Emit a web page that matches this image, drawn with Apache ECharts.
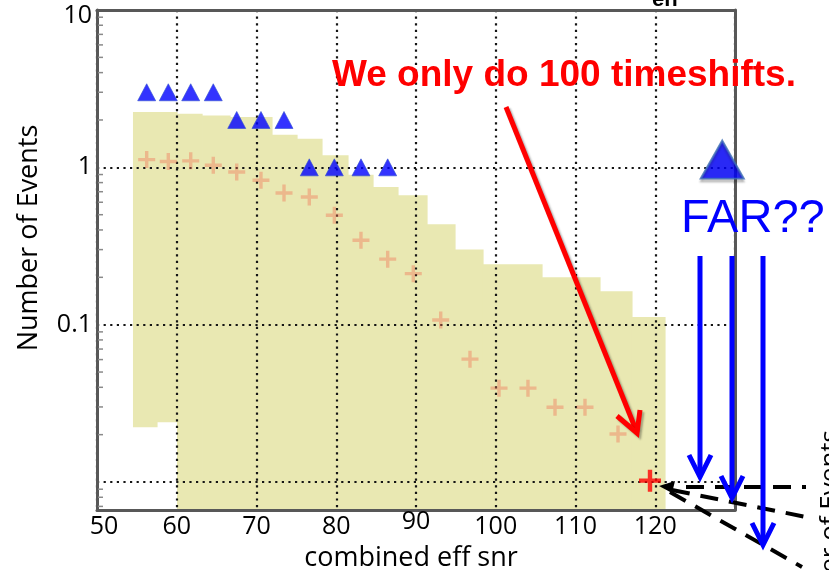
<!DOCTYPE html>
<html><head><meta charset="utf-8">
<script src="https://cdn.jsdelivr.net/npm/echarts@6/dist/echarts.min.js"></script>
<style>html,body{margin:0;padding:0;background:#fff}#c{width:829px;height:570px}</style>
</head><body><div id="c"></div>
<script>
// ---- data ----
const xTickLabels = [50, 60, 70, 80, 90, 100, 110, 120];
const yTickLabels = [10, 1, 0.1];
const bgSnr  = [56.23, 58.94, 61.75, 64.58, 67.52, 70.56, 73.45, 76.62, 79.76, 83.10, 86.45, 89.66, 93.10, 96.77, 100.41, 104.04, 107.43, 111.19, 115.33];
const bgMean = [1.12, 1.09, 1.10, 1.03, 0.934, 0.827, 0.687, 0.648, 0.496, 0.344, 0.261, 0.211, 0.107, 0.0604, 0.0395, 0.0395, 0.0299, 0.0299, 0.0202];
const zlSnr    = [56.23, 58.94, 61.75, 64.58, 67.52, 70.56, 73.45, 76.62, 79.76, 83.10, 86.45];
const zlCounts = [3, 3, 3, 3, 2, 2, 2, 1, 1, 1, 1];
const bandEdges = [54.51, 57.52, 60.03, 63.17, 66.68, 71.94, 75.08, 78.21, 81.47, 84.61, 87.74, 91.38, 94.89, 98.40, 105.80, 113.07, 117.08, 121.22];
const bandHigh  = [2.244, 2.244, 2.193, 2.138, 2.086, 1.613, 1.521, 1.192, 0.896, 0.750, 0.664, 0.435, 0.301, 0.242, 0.200, 0.163, 0.112];
const bandLow   = [0.0223, 0.0240, null, null, null, null, null, null, null, null, null, null, null, null, null, null, null];
const loudestSnr = [119.34];
const loudestVal = [0.0102];
const candSnr = [128.4];
const candVal = [1.12];
const yMinorTicks = [0.007, 0.008, 0.009, 0.02, 0.03, 0.04, 0.05, 0.06, 0.07, 0.08, 0.09,
                     0.2, 0.3, 0.4, 0.5, 0.6, 0.7, 0.8, 0.9, 2, 3, 4, 5, 6, 7, 8, 9];

// ---- chart ----
const chart = echarts.init(document.getElementById('c'));
const FONT = '"Open Sans", "DejaVu Sans", sans-serif';
const ARIAL = '"Liberation Sans", Arial, sans-serif';
const plusPath = 'path://M4,0h2v4h4v2h-4v4h-2v-4h-4v-2h4z';
const dotted = { color: '#151515', width: 2.2, type: [2.2, 4.4] };
const frame = { show: true, lineStyle: { color: '#585858', width: 3 } };

const bandData = bandHigh.map((h, i) => [bandEdges[i], bandEdges[i + 1], h, i]);

function renderBand(params, api) {
  const i = api.value(3);
  const cs = params.coordSys;
  const pTop = api.coord([api.value(0), api.value(2)]);
  const pRight = api.coord([api.value(1), api.value(2)]);
  let bottom = cs.y + cs.height;
  if (bandLow[i] != null) bottom = api.coord([api.value(0), bandLow[i]])[1];
  const rect = echarts.graphic.clipRectByRect(
    { x: pTop[0], y: pTop[1], width: pRight[0] - pTop[0] + 0.6, height: bottom - pTop[1] },
    { x: cs.x, y: cs.y, width: cs.width, height: cs.height });
  return rect && { type: 'rect', shape: rect, style: { fill: '#e9e8b2' } };
}

function renderMinor(params, api) {
  const p = api.coord([api.value(0), api.value(1)]);
  return { type: 'line', shape: { x1: p[0] + 1, y1: p[1], x2: p[0] + 6, y2: p[1] },
           style: { stroke: '#8a8a8a', lineWidth: 1.5 } };
}

function blueArrow(x, tip) {
  return [
    { type: 'line', shape: { x1: x, y1: 256, x2: x, y2: tip - 3 }, style: { stroke: '#0000ff', lineWidth: 5 }, z: 100 },
    { type: 'polyline', shape: { points: [[x - 11, tip - 22], [x, tip], [x + 11, tip - 22]] },
      style: { stroke: '#0000ff', lineWidth: 5, fill: null, lineJoin: 'miter' }, z: 100 }
  ];
}

const option = {
  backgroundColor: '#fff',
  animation: false,
  grid: { left: 97, right: 94, top: 10, bottom: 60, containLabel: false, outerBoundsMode: 'none' },
  xAxis: [{
    type: 'value', min: 50, max: 130, interval: 10, z: 1,
    name: 'combined eff snr', nameLocation: 'middle', nameGap: 30,
    nameTextStyle: { fontFamily: FONT, fontSize: 27, color: '#000', padding: [0, 10, 0, 0] },
    axisLine: frame, axisTick: { show: false },
    splitLine: { show: true, lineStyle: dotted },
    axisLabel: {
      margin: -1,
      fontFamily: FONT, fontSize: 25, color: '#000',
      formatter: v => {
        if (!xTickLabels.includes(v)) return '';
        if (v === 90) return '{up|90}';
        if (v === 50) return '{first|50}';
        return '{n|' + v + '}';
      },
      rich: {
        n: { fontFamily: FONT, fontSize: 25, color: '#000', lineHeight: 36 },
        up: { fontFamily: FONT, fontSize: 25, color: '#000', lineHeight: 26 },
        first: { fontFamily: FONT, fontSize: 25, color: '#000', lineHeight: 36, padding: [0, 0, 0, 14] }
      }
    }
  }, {
    type: 'value', min: 50, max: 130, position: 'top', z: 1,
    axisLine: frame, axisTick: { show: false }, axisLabel: { show: false }, splitLine: { show: false }
  }],
  yAxis: [{
    type: 'log', logBase: 10, min: 0.00664, max: 10, z: 1,
    name: 'Number of Events', nameLocation: 'middle', nameGap: 54, nameRotate: 90,
    nameTextStyle: { fontFamily: FONT, fontSize: 27, color: '#000', padding: [0, 0, 0, 44] },
    axisLine: frame, axisTick: { show: false }, minorTick: { show: false },
    splitLine: { show: true, lineStyle: dotted },
    axisLabel: {
      margin: 5, fontFamily: FONT, fontSize: 25, color: '#000',
      formatter: v => {
        const m = yTickLabels.find(t => Math.abs(t - v) / t < 1e-6);
        if (m === undefined) return '';
        if (m === 10) return '{top|10}';
        return '{n|' + m + '}';
      },
      rich: {
        n: { fontFamily: FONT, fontSize: 25, color: '#000' },
        top: { fontFamily: FONT, fontSize: 25, color: '#000', padding: [12, 0, 0, 0] }
      }
    }
  }, {
    type: 'log', logBase: 10, min: 0.00664, max: 10, position: 'right', z: 1,
    axisLine: frame, axisTick: { show: false }, axisLabel: { show: false }, splitLine: { show: false }
  }],
  series: [
    { name: 'background band', type: 'custom', z: 0, renderItem: renderBand, data: bandData,
      encode: { x: [0, 1], y: 2 }, silent: true },
    { name: 'minor ticks', type: 'custom', z: 3, renderItem: renderMinor,
      data: yMinorTicks.map(v => [50, v]), encode: { x: 0, y: 1 }, silent: true },
    { name: 'background mean', type: 'scatter', z: 4, symbol: plusPath, symbolSize: 17,
      itemStyle: { color: 'rgba(240,112,82,0.5)' },
      data: bgSnr.map((x, i) => [x, bgMean[i]]) },
    { name: 'zero lag', type: 'scatter', z: 5, symbol: 'triangle', symbolSize: [18, 17],
      itemStyle: { color: '#0000ff', borderColor: '#3350d0', borderWidth: 0.8 },
      data: zlSnr.map((x, i) => [x, zlCounts[i]]) },
    { name: 'loudest background', type: 'scatter', z: 6, symbol: plusPath, symbolSize: 22,
      itemStyle: { color: '#ff0000' }, clip: false,
      data: loudestSnr.map((x, i) => [x, loudestVal[i]]) },
    { name: 'candidate', type: 'scatter', z: 6, symbol: 'triangle', symbolSize: [43, 38], clip: false,
      itemStyle: { color: '#0000ff', borderColor: '#3f6fb5', borderWidth: 2,
                   shadowColor: 'rgba(0,0,0,0.25)', shadowOffsetY: 3, shadowBlur: 2 },
      data: candSnr.map((x, i) => [x, candVal[i]]) }
  ],
  graphic: [
    { type: 'text', z: 100, style: { x: 332, y: 76, text: 'We only do 100 timeshifts.', font: 'bold 37px ' + ARIAL,
      fill: '#ff0000', verticalAlign: 'middle', textVerticalAlign: 'middle' } },
    { type: 'line', z: 100, shape: { x1: 506, y1: 107, x2: 636, y2: 430 },
      style: { stroke: '#ff0000', lineWidth: 5, shadowColor: 'rgba(0,0,0,0.3)', shadowOffsetX: 2, shadowOffsetY: 2, shadowBlur: 2 } },
    { type: 'polyline', z: 100, shape: { points: [[617, 416], [637, 433], [640, 410]] },
      style: { stroke: '#ff0000', lineWidth: 5, fill: null, lineJoin: 'miter', shadowColor: 'rgba(0,0,0,0.3)', shadowOffsetX: 2, shadowOffsetY: 2, shadowBlur: 2 } },
    { type: 'text', z: 100, style: { x: 681, y: 219, text: 'FAR??', font: '47px ' + ARIAL, fill: '#0000ff',
      verticalAlign: 'middle', textVerticalAlign: 'middle' } },
    ...blueArrow(700, 477), ...blueArrow(732, 498), ...blueArrow(763, 545),
    { type: 'line', z: 99, shape: { x1: 686, y1: 487, x2: 806, y2: 487 }, style: { stroke: '#000', lineWidth: 4, lineDash: [18, 11] } },
    { type: 'line', z: 99, shape: { x1: 672, y1: 490, x2: 806, y2: 517 }, style: { stroke: '#000', lineWidth: 4, lineDash: [18, 11] } },
    { type: 'line', z: 99, shape: { x1: 670, y1: 492, x2: 802, y2: 567 }, style: { stroke: '#000', lineWidth: 4, lineDash: [18, 11] } },
    { type: 'polygon', z: 99, shape: { points: [[659, 486], [675, 481], [672, 493]] }, style: { fill: '#000' } },
    { type: 'text', z: 100, x: 831, y: 430, rotation: Math.PI / 2,
      style: { x: 0, y: 0, text: 'Number of Events', font: '26px ' + FONT, fill: '#000',
               align: 'right', textAlign: 'right', verticalAlign: 'middle', textVerticalAlign: 'middle' } },
    { type: 'text', z: 100, style: { x: 652, y: 0, text: 'en', font: 'bold 22px ' + ARIAL, fill: '#000',
      verticalAlign: 'middle', textVerticalAlign: 'middle' } }
  ]
};
chart.setOption(option);
</script>
</body></html>
